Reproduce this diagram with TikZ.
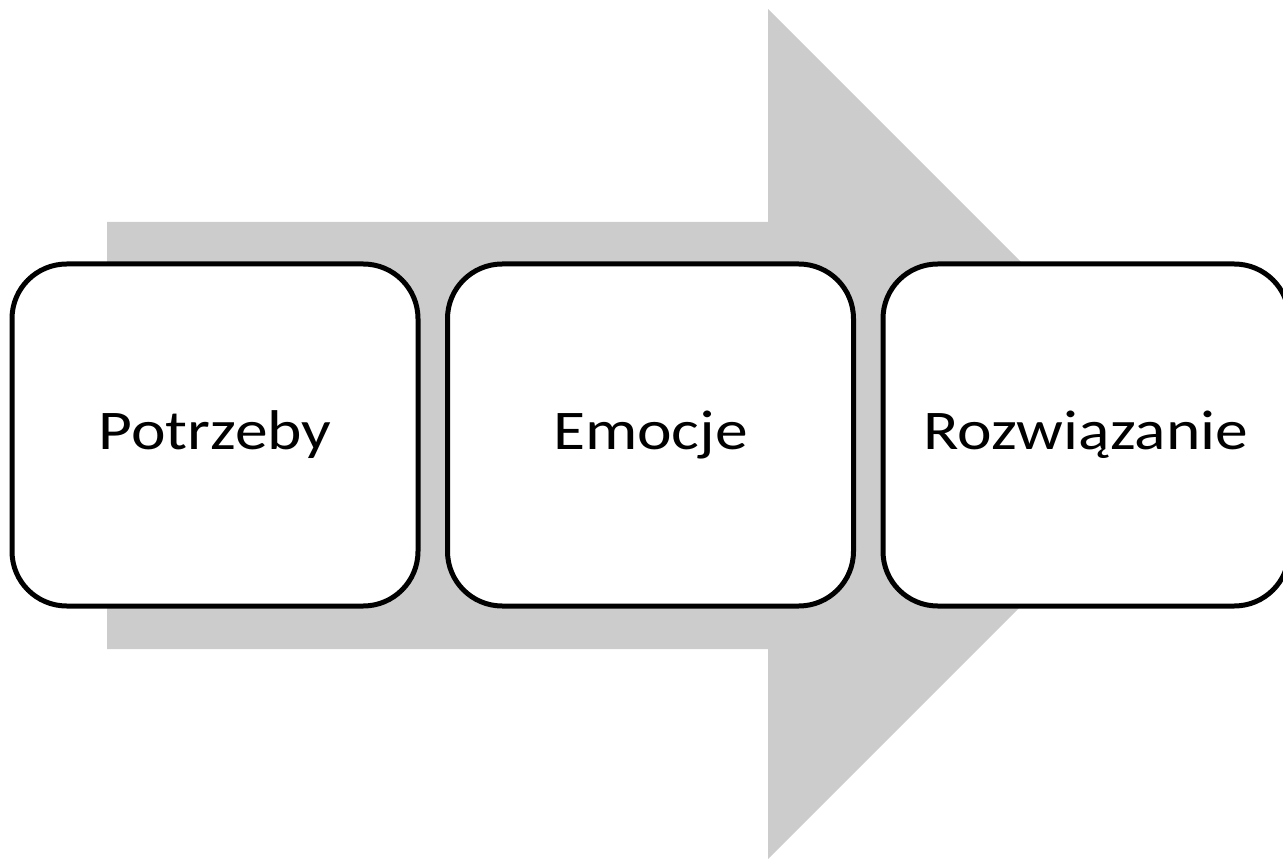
\documentclass[tikz,border=0pt]{standalone}
\usepackage{fontspec}
\setmainfont{Carlito}[FakeStretch=1.17]
\begin{document}
\begin{tikzpicture}[x=0.75pt,y=-0.75pt,
  stage/.style={draw=black, line width=3.75pt, fill=white, rounded corners=41pt,
    minimum width=304.5pt, minimum height=256.5pt, inner sep=0pt,
    font=\fontsize{42}{50}\selectfont},
  flow/.style={fill=black!20, draw=none}]
\useasboundingbox (0,0) rectangle (1283,859);
% broad background arrow
\fill[flow] (107,222) -- (768,222) -- (768,9) -- (1193,434) -- (768,859)
  -- (768,649) -- (107,649) -- cycle;
% the three stages
\node[stage] (potrzeby) at (215,435) {Potrzeby};
\node[stage] (emocje) at (650.5,435) {Emocje};
\node[stage] (rozwiazanie) at (1086,435) {Rozwiązanie};
\end{tikzpicture}
\end{document}
